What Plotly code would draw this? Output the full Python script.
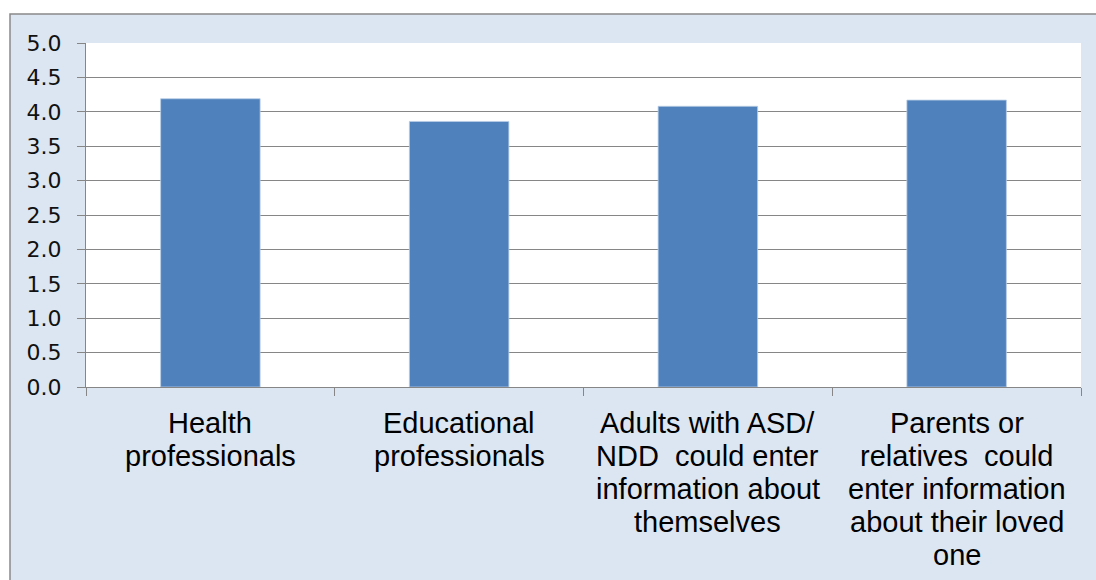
import plotly.graph_objects as go

# Mean rating for each group who could enter information
categories = [
    "Health professionals",
    "Educational professionals",
    "Adults with ASD/NDD could enter information about themselves",
    "Parents or relatives could enter information about their loved one",
]
label_lines = [
    ["Health", "professionals"],
    ["Educational", "professionals"],
    ["Adults with ASD/", "NDD  could enter", "information about", "themselves"],
    ["Parents or", "relatives  could", "enter information", "about their loved", "one"],
]
values = [4.19, 3.86, 4.08, 4.17]
y_ticks = [0.0, 0.5, 1.0, 1.5, 2.0, 2.5, 3.0, 3.5, 4.0, 4.5, 5.0]

W, H = 1096, 580
M_L, M_R, M_T, M_B = 86, 15, 43, 193
plot_w = W - M_L - M_R
plot_h = H - M_T - M_B

GRID = "#868686"
FRAME_BG = "#DCE6F2"
BAR = "#4F81BD"

fig = go.Figure(
    go.Bar(
        x=categories,
        y=values,
        marker=dict(color=BAR, line=dict(color="#B9CDE5", width=0.8)),
        hoverinfo="x+y",
    )
)

# Category labels, one line per annotation for tight line spacing
LINE_STEP = 33.0
FIRST_SHIFT = -18.0
annotations = []
for cat, lines in zip(categories, label_lines):
    for i, line in enumerate(lines):
        annotations.append(
            dict(
                x=cat,
                y=0,
                xref="x",
                yref="paper",
                text=line,
                showarrow=False,
                xanchor="center",
                yanchor="top",
                yshift=FIRST_SHIFT - i * LINE_STEP,
                font=dict(family="Liberation Sans, Arial, sans-serif", size=29, color="#000000"),
            )
        )

shapes = [
    # light blue chart frame
    dict(
        type="rect",
        xref="paper",
        yref="paper",
        x0=(10 - M_L) / plot_w,
        x1=1.2,
        y0=-2.0,
        y1=1 + (M_T - 14) / plot_h,
        fillcolor=FRAME_BG,
        line=dict(color="#898989", width=1.5),
        layer="below",
    ),
    # white plot area
    dict(
        type="rect",
        xref="paper",
        yref="paper",
        x0=0,
        x1=1,
        y0=0,
        y1=1,
        fillcolor="#FFFFFF",
        line=dict(width=0),
        layer="below",
    ),
]

fig.update_layout(
    width=W,
    height=H,
    autosize=False,
    margin=dict(l=M_L, r=M_R, t=M_T, b=M_B, pad=0),
    paper_bgcolor="#FFFFFF",
    plot_bgcolor="#FFFFFF",
    bargap=0.6,
    showlegend=False,
    shapes=shapes,
    annotations=annotations,
    xaxis=dict(
        type="category",
        showline=True,
        linecolor=GRID,
        linewidth=1,
        ticks="outside",
        tickson="boundaries",
        ticklen=8,
        tickcolor=GRID,
        showticklabels=False,
        showgrid=False,
        zeroline=False,
    ),
    yaxis=dict(
        range=[0, 5],
        tickvals=y_ticks,
        ticktext=[f"{v:.1f}" for v in y_ticks],
        showgrid=True,
        gridcolor=GRID,
        gridwidth=1,
        showline=True,
        linecolor=GRID,
        linewidth=1,
        ticks="outside",
        ticklen=8,
        tickcolor=GRID,
        ticklabelstandoff=11,
        zeroline=False,
        tickfont=dict(family="DejaVu Sans, Verdana, sans-serif", size=22, color="#111111"),
    ),
)

fig.write_html("out.html")
